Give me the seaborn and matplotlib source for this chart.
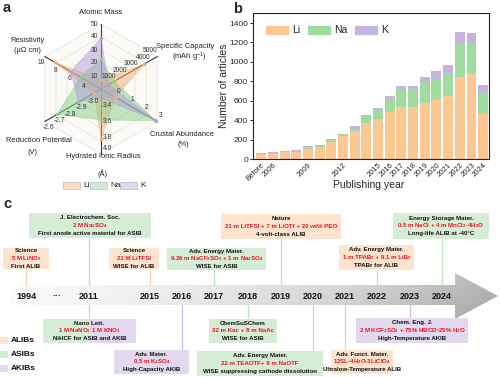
import matplotlib
matplotlib.use("Agg")
import numpy as np
import pandas as pd
import matplotlib.pyplot as plt
from matplotlib.patches import Polygon, Rectangle, Patch
from matplotlib.colors import LinearSegmentedColormap
import seaborn as sns

# ---------------- data: panel a (radar) ----------------
radar_metrics = ["Atomic Mass", "Specific Capacity", "Crustal Abundance",
                 "Hydrated Ionic Radius", "Reduction Potential", "Resistivity"]
radar_units = ["", "(mAh g$^{-1}$)", "(%)", "(Å)", "(V)", "(μΩ cm)"]
radar_lo = [0, 0, -1, 3.2, -3.1, 2]
radar_hi = [50, 5000, 3, 4.0, -2.6, 10]
radar_ticks = [[10, 20, 30, 40, 50],
               [1000, 2000, 3000, 4000, 5000],
               [0, 1, 2, 3],
               [3.4, 3.6, 3.8, 4.0],
               [-3.0, -2.9, -2.8, -2.7, -2.6],
               [4, 6, 8, 10]]
radar_ticklabels = [["10", "20", "30", "40", "50"],
                    ["1000", "2000", "3000", "4000", "5000"],
                    ["0", "1", "2", "3"],
                    ["3.4", "3.6", "3.8", "4.0"],
                    ["-3.0", "-2.9", "-2.8", "-2.7", "-2.6"],
                    ["4", "6", "8", "10"]]
ions = ["Li", "Na", "K"]
li_props = [6.94, 3860, 0.0017, 3.82, -3.04, 8.6]
na_props = [22.99, 1166, 2.9, 3.58, -2.71, 4.9]
k_props = [39.10, 685, 2.85, 3.31, -2.90, 6.3]

# ---------------- data: panel b (articles) ----------------
years = ["Before", "2006", "2007", "2008", "2009", "2010", "2011", "2012", "2013",
         "2014", "2015", "2016", "2017", "2018", "2019", "2020", "2021", "2022",
         "2023", "2024"]
li_articles = [48, 55, 72, 76, 107, 128, 179, 238, 290, 366, 410, 486, 538, 531,
               572, 603, 652, 848, 883, 459]
na_articles = [8, 7, 7, 7, 17, 10, 18, 17, 24, 72, 97, 135, 169, 193, 218, 221,
               238, 345, 310, 217]
k_articles = [8, 7, 4, 7, 7, 7, 10, 7, 24, 14, 17, 24, 41, 31, 58, 86, 82, 110,
              104, 83]
shown_years = ["Before", "2006", "2009", "2012", "2015", "2016", "2017", "2018",
               "2019", "2020", "2021", "2022", "2023", "2024"]

# ---------------- data: panel c (timeline) ----------------
timeline_years = ["1994", "···", "2011", "2015", "2016", "2017", "2018", "2019",
                  "2020", "2021", "2022", "2023", "2024"]
ms_year = ["1994", "2011", "2015", "2017", "2019", "2022", "2024",
           "2011", "2016", "2018", "2020", "2021", "2023"]
ms_journal = ["Science", "J. Electrochem. Soc.", "Science", "Adv. Energy Mater.",
              "Nature", "Adv. Energy Mater.", "Energy Storage Mater.",
              "Nano Lett.", "Adv. Mater.", "ChemSuSChem", "Adv. Energy Mater.",
              "Adv. Funct. Mater.", "Chem. Eng. J."]
ms_electrolyte = ["5 M LiNO$_3$", "2 M Na$_2$SO$_4$", "21 M LiTFSI",
                  "9.26 m NaCF$_3$SO$_3$ + 1 m Na$_2$SO$_4$",
                  "21 m LiTFSI + 7 m LiOTf + 20 wt% PEO",
                  "1 m TPABr + 9.1 m LiBr",
                  "0.5 m NaCl + 4 m MnCl$_2$·4H$_2$O",
                  "1 M NaNO$_3$ 1 M KNO$_3$", "0.5 m K$_2$SO$_4$",
                  "32 m Kac + 8 m NaAc", "22 m TEAOTF+ 9 m NaOTF",
                  "12SL-4H$_2$O-3LiClO$_4$",
                  "2 M KCF$_3$SO$_3$ + 75% HBCD-25% H$_2$O"]
ms_note = ["First ALIB", "First anode active material for ASIB", "WISE for ALIB",
           "WISE for ASIB", "4-volt-class ALIB", "TPABr for ALIB",
           "Long-life ALIB at -40°C", "NiHCF for ASIB and AKIB",
           "High-Capacity AKIB", "WISE for ASIB",
           "WISE suppressing cathode dissolution", "Ultralow-Temperature ALIB",
           "High-Temperature AKIB"]
ms_kind = ["ALIB", "ASIB", "ALIB", "ASIB", "ALIB", "ALIB", "ASIB",
           "ASIB/AKIB", "AKIB", "ASIB", "ASIB", "ALIB", "AKIB"]
battery_types = ["ALIBs", "ASIBs", "AKIBs"]

# ---------------- style ----------------
sns.set_theme(style="white")
plt.rcParams["font.family"] = ["Liberation Sans", "DejaVu Sans"]
plt.rcParams["mathtext.default"] = "regular"

LI_C, NA_C, K_C = "#FDC794", "#A0DBA0", "#C5B5DE"
RAD_C = {"Li": "#F8AE72", "Na": "#88CF88", "K": "#B39DD6"}
BOX_C = {"ALIB": "#FDE4CF", "ASIB": "#D4EDD4", "AKIB": "#E2D9EF"}
LINE_C = {"ALIB": "#F7D0AE", "ASIB": "#BFE3BF", "AKIB": "#CFC2E4"}

fig = plt.figure(figsize=(5.0, 3.78), dpi=100)
fig.patch.set_facecolor("white")

# overlay axes in pixel coordinates
ax = fig.add_axes([0, 0, 1, 1])
ax.set_xlim(0, 500)
ax.set_ylim(378, 0)
ax.axis("off")

# ---------------- panel a: radar ----------------
cx, cy, R = 101, 89, 65
ang = np.deg2rad([90, 30, -30, -90, 210, 150])


def rpos(i, v):
    f = (v - radar_lo[i]) / (radar_hi[i] - radar_lo[i])
    return cx + R * f * np.cos(ang[i]), cy - R * f * np.sin(ang[i])


outer = [(cx + R * np.cos(a), cy - R * np.sin(a)) for a in ang]
ax.add_patch(Polygon(outer, closed=True, facecolor="#FBFAF6", edgecolor="none", zorder=1))
for k in range(1, 6):
    f = k / 5
    pts = [(cx + R * f * np.cos(a), cy - R * f * np.sin(a)) for a in ang]
    pts.append(pts[0])
    xs, ys = zip(*pts)
    ax.plot(xs, ys, color="#E4E4E4", lw=0.6, zorder=2)
for a in ang:
    ax.plot([cx, cx + R * np.cos(a)], [cy, cy - R * np.sin(a)], color="#3A3A3A",
            lw=0.8, zorder=3)

for ion, vals in zip(ions, [li_props, na_props, k_props]):
    pts = [rpos(i, v) for i, v in enumerate(vals)]
    ax.add_patch(Polygon(pts, closed=True, facecolor=RAD_C[ion], alpha=0.5,
                         edgecolor=RAD_C[ion], lw=0.6, zorder=4))
    xs, ys = zip(*pts)
    ax.scatter(xs, ys, s=6, color=RAD_C[ion], zorder=5, linewidths=0)

for i in range(6):
    pa = ang[i] + np.pi / 2
    off = 6.5
    n = len(radar_ticks[i])
    for j, (t, lab) in enumerate(zip(radar_ticks[i], radar_ticklabels[i])):
        x, y = rpos(i, t)
        dy = -6 if (i == 3 and j == n - 1) else 0
        dx = -4 if (i == 1 and j == n - 1) else 0
        ax.text(x + off * np.cos(pa) + dx, y - off * np.sin(pa) + dy, lab,
                fontsize=4.8, color="#333333", ha="center", va="center", zorder=6)

name_pos = [(101, 13), (185, 46), (182, 135), (103, 157), (39, 140), (27, 41)]
unit_pos = [None, (189, 57), (183, 145), (102, 174), (33, 152), (27, 51)]
for i in range(6):
    ax.text(*name_pos[i], radar_metrics[i], fontsize=5.4, ha="center", va="center",
            color="#222222")
    if unit_pos[i] is not None:
        ax.text(*unit_pos[i], radar_units[i], fontsize=5.4, ha="center",
                va="center", color="#222222")

leg_x = [(63, 83), (90, 110), (120, 140)]
for (bx, tx), ion in zip(leg_x, ions):
    ax.add_patch(Rectangle((bx, 182), 16.5, 6.5, facecolor=RAD_C[ion], alpha=0.4,
                           edgecolor="none"))
    ax.add_patch(Rectangle((bx, 182), 16.5, 6.5, facecolor="none",
                           edgecolor="#BBBBBB", lw=0.5))
    ax.text(tx, 185.5, ion, fontsize=6, ha="left", va="center", color="#222222")

ax.text(3, 12, "a", fontsize=10.5, fontweight="bold", ha="left", va="baseline")
ax.text(233, 13, "b", fontsize=10.5, fontweight="bold", ha="left", va="baseline")
ax.text(3, 208, "c", fontsize=10.5, fontweight="bold", ha="left", va="baseline")

# ---------------- panel b: stacked bars ----------------
df = pd.DataFrame({"year": years, "Li": li_articles, "Na": na_articles,
                   "K": k_articles})
df["LiNa"] = df["Li"] + df["Na"]
df["Total"] = df["LiNa"] + df["K"]

axb = fig.add_axes([253 / 500, 1 - 159 / 378, 236 / 500, 145.7 / 378])
for col, c in [("Total", K_C), ("LiNa", NA_C), ("Li", LI_C)]:
    sns.barplot(data=df, x="year", y=col, order=years, color=c, width=0.85,
                saturation=1, errorbar=None, ax=axb, linewidth=0)
axb.set_xlim(-0.7, 19.5)
axb.set_ylim(0, 1500)
axb.set_yticks(range(0, 1401, 200))
axb.set_xticks(range(len(years)))
axb.set_xticklabels([y if y in shown_years else "" for y in years], rotation=45,
                    ha="right", rotation_mode="anchor", fontsize=5.5)
axb.tick_params(axis="y", left=True, length=2.5, width=0.7, labelsize=6, pad=1,
                direction="out")
axb.tick_params(axis="x", bottom=True, length=0, pad=2)
for s in axb.spines.values():
    s.set_color("#222222")
    s.set_linewidth(0.8)
axb.set_ylabel("Number of articles", fontsize=7.5)
axb.set_xlabel("Publishing year", fontsize=7.5)
axb.yaxis.set_label_coords(-0.1, 0.5)
axb.xaxis.set_label_coords(0.49, -0.145)
handles = [Patch(facecolor=c, edgecolor="white", lw=0.5) for c in (LI_C, NA_C, K_C)]
axb.legend(handles, ions, loc="upper left", bbox_to_anchor=(0.05, 0.92), ncol=3,
           frameon=False, fontsize=7.5, handlelength=2.3, handleheight=1.1,
           handletextpad=0.35, columnspacing=0.6, borderaxespad=0, borderpad=0)

# ---------------- panel c: timeline ----------------
arrow_pts = [(10, 285), (455, 285), (455, 273), (498, 296), (455, 319), (455, 305),
             (10, 305)]
apoly = Polygon(arrow_pts, closed=True, facecolor="none", edgecolor="none")
ax.add_patch(apoly)
gx = np.linspace(0, 1, 300)
gy = np.linspace(0, 1, 60)
G = 0.88 * gx[None, :] + 0.12 * gy[:, None]
cmap = LinearSegmentedColormap.from_list("g", ["#FFFFFF", "#EDEDED", "#D4D4D4",
                                               "#A6A6A6"])
im = ax.imshow(G, extent=(10, 498, 319, 273), cmap=cmap, vmin=0, vmax=1,
               aspect="auto", origin="upper", interpolation="bilinear", zorder=1)
im.set_clip_path(apoly)
ax.set_xlim(0, 500)
ax.set_ylim(378, 0)

year_x = [26, 57, 89, 150, 182, 214, 248, 281, 313, 345, 377, 410, 442]
yx = dict(zip(timeline_years, year_x))
for lab, x in zip(timeline_years, year_x):
    ax.text(x, 296.5, lab, fontsize=6.5, fontweight="bold", ha="center",
            va="center", color="#111111", zorder=5)

boxes = [(3, 49, 248, 269), (29, 151, 213, 238), (109, 159, 248, 269),
         (167, 266, 248, 270), (221, 341, 214, 239), (339, 414, 245, 270),
         (393, 489, 213, 239), (43, 136, 319, 343), (114, 189, 350, 374),
         (209, 277, 319, 343), (197, 323, 351, 376), (331, 393, 350, 374),
         (356, 468, 318, 343)]
for i, (x0, x1, y0, y1) in enumerate(boxes):
    kind = ms_kind[i]
    x = yx[ms_year[i]]
    if "/" in kind:
        k1, k2 = kind.split("/")
        xm = (x0 + x1) / 2
        ax.add_patch(Rectangle((x0, y0), xm - x0, y1 - y0, facecolor=BOX_C[k1],
                               edgecolor="none", zorder=3))
        ax.add_patch(Rectangle((xm, y0), x1 - xm, y1 - y0, facecolor=BOX_C[k2],
                               edgecolor="none", zorder=3))
        lc = "#C9D9C9"
    else:
        ax.add_patch(Rectangle((x0, y0), x1 - x0, y1 - y0, facecolor=BOX_C[kind],
                               edgecolor="none", zorder=3))
        lc = LINE_C[kind]
    if y1 < 285:
        ax.plot([x, x], [y1, 285], color=lc, lw=1.0, zorder=2)
    else:
        ax.plot([x, x], [305, y0], color=lc, lw=1.0, zorder=2)
    xc, yc = (x0 + x1) / 2, (y0 + y1) / 2
    ax.text(xc, yc - 7.6, ms_journal[i], fontsize=4.4, fontweight="bold",
            ha="center", va="center", color="#111111", zorder=4)
    ax.text(xc, yc, ms_electrolyte[i], fontsize=4.4, fontweight="bold",
            ha="center", va="center", color="#F01020", zorder=4)
    ax.text(xc, yc + 7.6, ms_note[i], fontsize=4.4, fontweight="bold",
            ha="center", va="center", color="#111111", zorder=4)

for j, (lab, key) in enumerate(zip(battery_types, ["ALIB", "ASIB", "AKIB"])):
    y = 340 + 14 * j
    ax.add_patch(Rectangle((0, y - 3.5), 8, 7, facecolor=BOX_C[key],
                           edgecolor="none"))
    ax.text(11, y, lab, fontsize=6, fontweight="bold", ha="left", va="center",
            color="#111111")

fig.savefig("out.png", dpi=100)
